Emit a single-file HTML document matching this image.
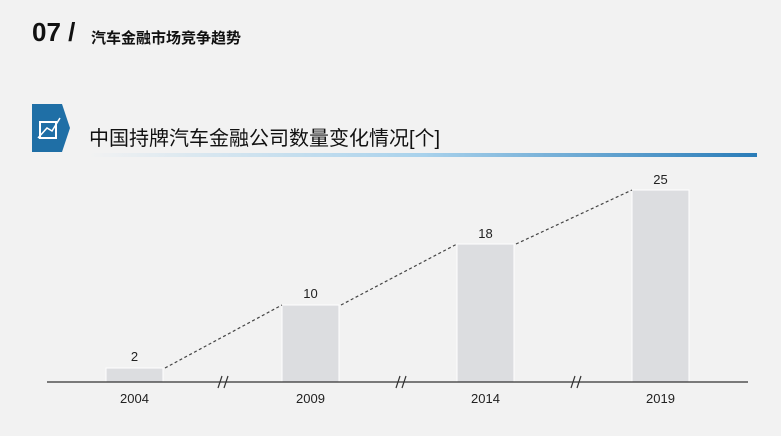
<!DOCTYPE html><html><head><meta charset="utf-8"><style>
body{margin:0;width:781px;height:436px;background:#f2f2f2;overflow:hidden;font-family:"Liberation Sans","Noto Sans CJK SC",sans-serif;position:relative}
.a{position:absolute}
</style></head><body>
<div class="a" style="left:32px;top:17px;font-size:26px;font-weight:bold;color:#111">07 /</div>
<div class="a" style="left:91px;top:27px;font-size:15px;font-weight:bold;color:#111">汽车金融市场竞争趋势</div>
<svg class="a" style="left:0;top:0" width="781" height="436">
<defs><linearGradient id="g" x1="0" x2="1"><stop offset="0" stop-color="#f2f2f2"/><stop offset="0.5" stop-color="#a9d2ec"/><stop offset="1" stop-color="#2a7cb8"/></linearGradient></defs>
<polygon points="32,104 62,104 70,128 62,152 32,152" fill="#1f6fa6"/>
<rect x="40" y="122" width="16" height="16" fill="none" stroke="#fff" stroke-width="2"/>
<polyline points="38,138 47,128 52,131 60,118" stroke="#fff" stroke-width="1.5" fill="none"/>
<rect x="88" y="153" width="669" height="4" fill="url(#g)"/>
<g fill="#dcdde0" stroke="#fff" stroke-width="1">
<rect x="106" y="368" width="57" height="14"/>
<rect x="282" y="305" width="57" height="77"/>
<rect x="457" y="244" width="57" height="138"/>
<rect x="632" y="190" width="57" height="192"/>
</g>
<polyline points="165,368 282,305 M0,0" fill="none"/>
<g stroke="#444" stroke-width="1.2" stroke-dasharray="3,2.5" fill="none">
<line x1="165" y1="368" x2="282" y2="305"/><line x1="341" y1="305" x2="457" y2="244"/><line x1="516" y1="244" x2="632" y2="190"/>
</g>
<line x1="47" y1="382" x2="748" y2="382" stroke="#333" stroke-width="1.3"/>
<g stroke="#333" stroke-width="1.2"><line x1="218" y1="388" x2="222" y2="376"/><line x1="224" y1="388" x2="228" y2="376"/>
<line x1="396" y1="388" x2="400" y2="376"/><line x1="402" y1="388" x2="406" y2="376"/>
<line x1="571" y1="388" x2="575" y2="376"/><line x1="577" y1="388" x2="581" y2="376"/></g>
<g font-size="13" fill="#222" text-anchor="middle" font-family="Liberation Sans, sans-serif">
<text x="134.5" y="361">2</text><text x="310.5" y="298">10</text><text x="485.5" y="238">18</text><text x="660.5" y="184">25</text>
<text x="134.5" y="403">2004</text><text x="310.5" y="403">2009</text><text x="485.5" y="403">2014</text><text x="660.5" y="403">2019</text>
</g></svg>
<div class="a" style="left:89px;top:122px;font-size:20px;color:#111">中国持牌汽车金融公司数量变化情况[个]</div>
</body></html>
